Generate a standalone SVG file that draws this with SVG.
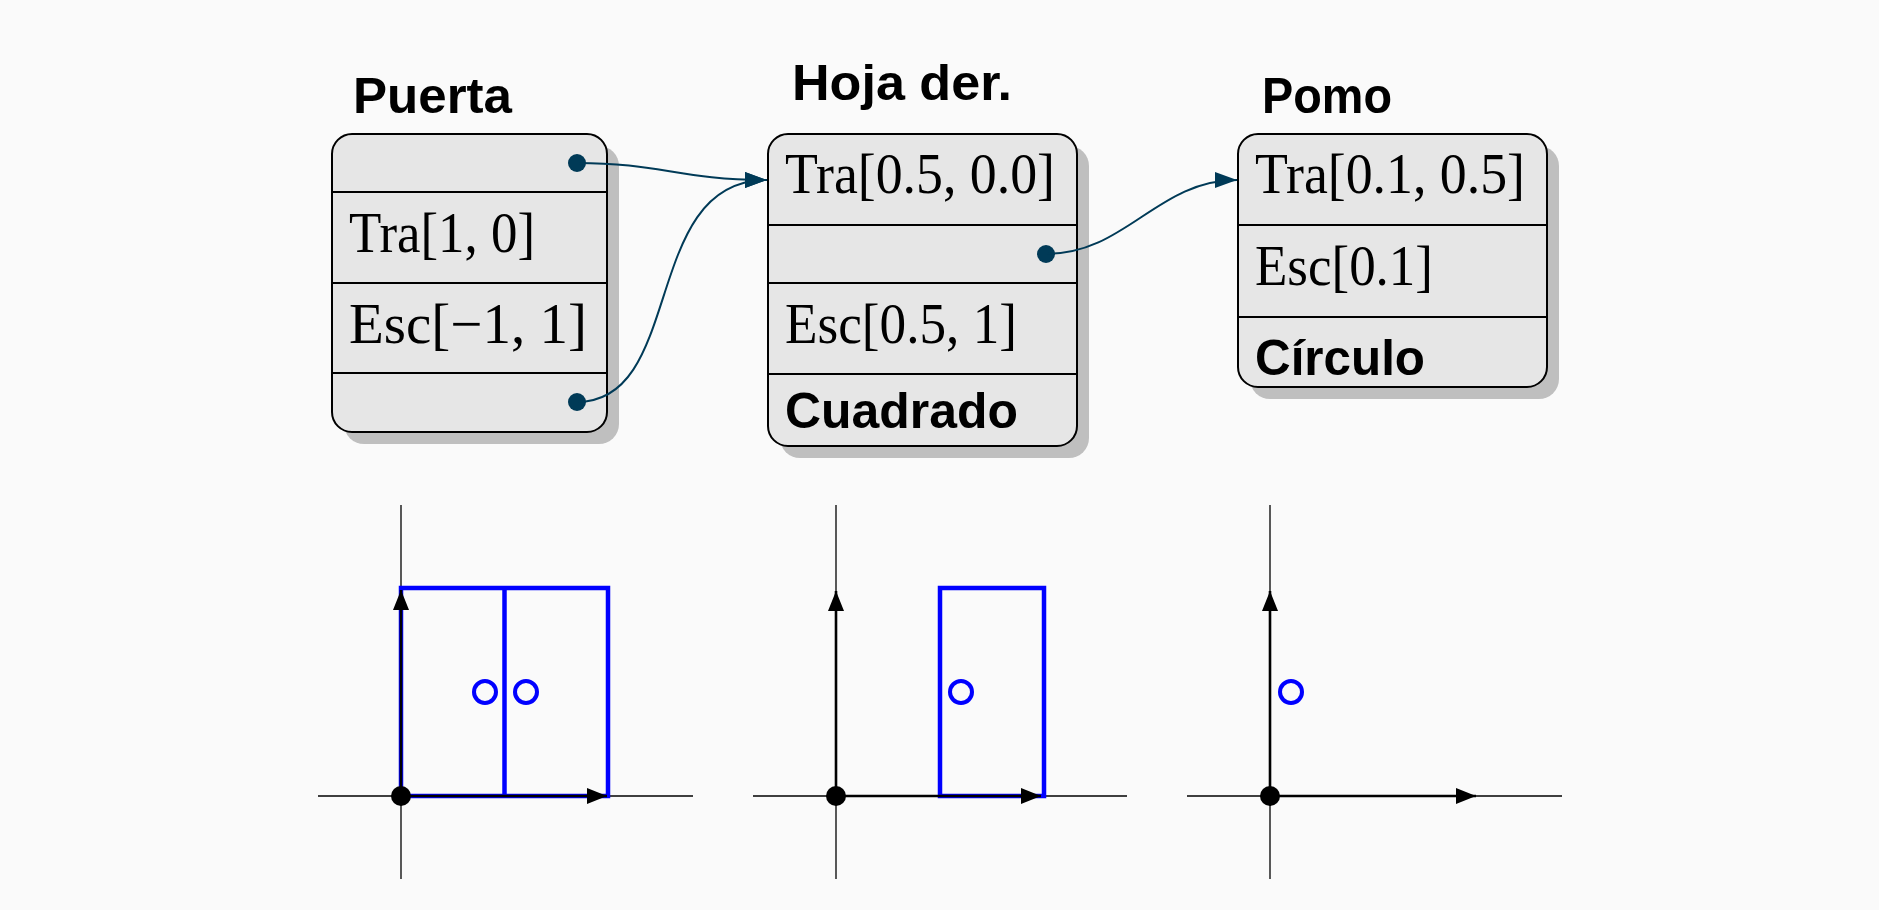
<svg xmlns="http://www.w3.org/2000/svg" width="1879" height="910" viewBox="0 0 1879 910">
<defs>
<style>
.bg{fill:#fafafa}
.shadow{fill:#bfbfbf}
.box{fill:#e6e6e6;stroke:#000;stroke-width:2}
.div{stroke:#000;stroke-width:2}
.title{font-family:"Liberation Sans",Arial,sans-serif;font-weight:bold;font-size:50px;fill:#000}
.row{font-family:"Liberation Serif","Times New Roman",serif;font-size:57px;fill:#000}
.rowb{font-family:"Liberation Sans",Arial,sans-serif;font-weight:bold;font-size:50px;fill:#000}
.port{fill:#003a57}
.conn{fill:none;stroke:#003a57;stroke-width:2}
.axis{stroke:#000;stroke-width:1.3}
.vec{stroke:#000;stroke-width:2.6}
.door{fill:none;stroke:#0000ff;stroke-width:4.5}
.knob{fill:none;stroke:#0000ff;stroke-width:4}
</style>
<marker id="arr" markerUnits="userSpaceOnUse" markerWidth="24" markerHeight="18" refX="22" refY="8" orient="auto">
<path d="M0,0 L22,8 L0,16 Z" fill="#003a57"/>
</marker>
<marker id="varr" markerUnits="userSpaceOnUse" markerWidth="22" markerHeight="18" refX="20" refY="8" orient="auto">
<path d="M0,0 L20,8 L0,16 Z" fill="#000"/>
</marker>
</defs>
<rect class="bg" x="0" y="0" width="1879" height="910"/>

<g id="puerta">
<text class="title" x="353" y="113" textLength="159" lengthAdjust="spacingAndGlyphs">Puerta</text>
<rect class="shadow" x="344" y="146" width="275" height="298" rx="20"/>
<rect class="box" x="332" y="134" width="275" height="298" rx="20"/>
<line class="div" x1="332" y1="192" x2="607" y2="192"/>
<line class="div" x1="332" y1="283" x2="607" y2="283"/>
<line class="div" x1="332" y1="373" x2="607" y2="373"/>
<text class="row" x="349" y="252" textLength="186" lengthAdjust="spacingAndGlyphs">Tra[1, 0]</text>
<text class="row" x="349" y="343" textLength="238" lengthAdjust="spacingAndGlyphs">Esc[−1, 1]</text>
<circle class="port" cx="577" cy="163" r="9"/>
<circle class="port" cx="577" cy="402" r="9"/>
</g>

<g id="hoja">
<text class="title" x="792" y="100" textLength="220" lengthAdjust="spacingAndGlyphs">Hoja der.</text>
<rect class="shadow" x="780" y="146" width="309" height="312" rx="20"/>
<rect class="box" x="768" y="134" width="309" height="312" rx="20"/>
<line class="div" x1="768" y1="225" x2="1077" y2="225"/>
<line class="div" x1="768" y1="283" x2="1077" y2="283"/>
<line class="div" x1="768" y1="374" x2="1077" y2="374"/>
<text class="row" x="785" y="193" textLength="270" lengthAdjust="spacingAndGlyphs">Tra[0.5, 0.0]</text>
<text class="row" x="785" y="343" textLength="232" lengthAdjust="spacingAndGlyphs">Esc[0.5, 1]</text>
<text class="rowb" x="785" y="428" textLength="233" lengthAdjust="spacingAndGlyphs">Cuadrado</text>
<circle class="port" cx="1046" cy="254" r="9"/>
</g>

<g id="pomo">
<text class="title" x="1262" y="113" textLength="130" lengthAdjust="spacingAndGlyphs">Pomo</text>
<rect class="shadow" x="1250" y="146" width="309" height="253" rx="20"/>
<rect class="box" x="1238" y="134" width="309" height="253" rx="20"/>
<line class="div" x1="1238" y1="225" x2="1547" y2="225"/>
<line class="div" x1="1238" y1="317" x2="1547" y2="317"/>
<text class="row" x="1255" y="193" textLength="270" lengthAdjust="spacingAndGlyphs">Tra[0.1, 0.5]</text>
<text class="row" x="1255" y="285" textLength="178" lengthAdjust="spacingAndGlyphs">Esc[0.1]</text>
<text class="rowb" x="1255" y="375" textLength="170" lengthAdjust="spacingAndGlyphs">Círculo</text>
</g>

<g id="connectors">
<path class="conn" d="M577,163 C660,163 680,180 767,180" marker-end="url(#arr)"/>
<path class="conn" d="M577,402 C686,402 640,180 767,180" marker-end="url(#arr)"/>
<path class="conn" d="M1046,254 C1126,254 1157,180 1237,180" marker-end="url(#arr)"/>
</g>

<g id="plot-puerta">
<line class="axis" x1="401" y1="505" x2="401" y2="879"/>
<line class="axis" x1="318" y1="796" x2="693" y2="796"/>
<rect class="door" x="401" y="588" width="207" height="208"/>
<line class="door" x1="504.5" y1="588" x2="504.5" y2="796"/>
<circle class="knob" cx="485" cy="692" r="11"/>
<circle class="knob" cx="526" cy="692" r="11"/>
<line class="vec" x1="401" y1="796" x2="401" y2="590" marker-end="url(#varr)"/>
<line class="vec" x1="401" y1="796" x2="607" y2="796" marker-end="url(#varr)"/>
<circle cx="401" cy="796" r="10" fill="#000"/>
</g>

<g id="plot-hoja">
<line class="axis" x1="836" y1="505" x2="836" y2="879"/>
<line class="axis" x1="753" y1="796" x2="1127" y2="796"/>
<rect class="door" x="940" y="588" width="104" height="208"/>
<circle class="knob" cx="961" cy="692" r="11"/>
<line class="vec" x1="836" y1="796" x2="836" y2="591" marker-end="url(#varr)"/>
<line class="vec" x1="836" y1="796" x2="1041" y2="796" marker-end="url(#varr)"/>
<circle cx="836" cy="796" r="10" fill="#000"/>
</g>

<g id="plot-pomo">
<line class="axis" x1="1270" y1="505" x2="1270" y2="879"/>
<line class="axis" x1="1187" y1="796" x2="1562" y2="796"/>
<circle class="knob" cx="1291" cy="692" r="11"/>
<line class="vec" x1="1270" y1="796" x2="1270" y2="591" marker-end="url(#varr)"/>
<line class="vec" x1="1270" y1="796" x2="1476" y2="796" marker-end="url(#varr)"/>
<circle cx="1270" cy="796" r="10" fill="#000"/>
</g>
</svg>
